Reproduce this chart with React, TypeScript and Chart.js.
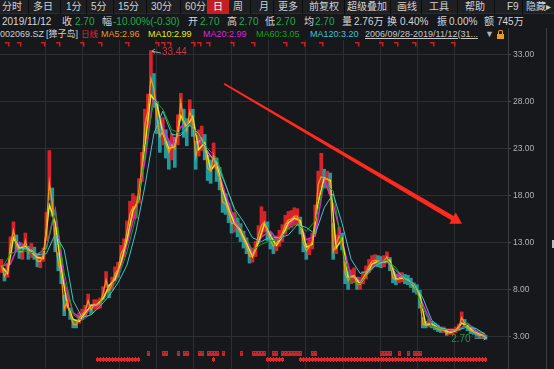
import React, { useEffect, useRef } from "react";
import { Chart, registerables } from "chart.js";
Chart.register(...registerables);

// ---- data (one slot ≈ a few weeks of daily bars) ----
const slotCount = 170;
const ma5 = [
  10.5, 9.4, 10.0, 12.8, 14.3, 12.8, 12.0, 12.0, 13.2, 11.9,
  12.2, 11.9, 11.0, 11.0, 11.6, 14.6, 19.4, 17.2, 13.0, 10.8,
  9.6, 5.9, 6.8, 5.3, 4.3, 4.2, 5.0, 5.3, 5.7, 6.8,
  5.8, 6.4, 6.4, 6.5, 7.6, 9.0, 7.8, 8.6, 9.7, 10.1,
  11.8, 12.4, 14.2, 16.0, 16.8, 16.8, 18.5, 21.0, 25.6, 27.0,
  30.5, 29.4, 26.3, 24.3, 24.9, 23.5, 22.6, 23.4, 23.0, 25.0,
  28.0, 25.8, 24.9, 27.0, 25.9, 22.1, 23.7, 24.1, 23.2, 20.9,
  20.6, 22.3, 20.8, 19.9, 17.3, 17.1, 16.2, 15.0, 15.1, 14.6,
  14.0, 13.3, 12.6, 11.5, 11.6, 12.3, 13.8, 14.8, 15.2, 14.2,
  13.2, 12.6, 12.9, 13.4, 14.0, 14.9, 15.4, 15.5, 15.8, 15.8,
  14.8, 13.0, 12.1, 12.5, 13.1, 15.5, 19.2, 20.0, 19.8, 19.8,
  19.4, 12.0, 12.8, 13.7, 13.2, 9.7, 8.9, 9.4, 9.5, 8.6,
  8.6, 9.2, 9.8, 10.5, 11.0, 11.1, 11.0, 10.9, 11.0, 11.5,
  10.7, 9.2, 9.0, 9.2, 9.3, 9.1, 9.0, 8.7, 8.2, 8.0,
  6.9, 4.3, 4.2, 4.4, 4.2, 4.0, 3.8, 3.7, 3.7, 3.3,
  3.5, 3.5, 3.7, 3.9, 5.0, 4.4, 3.9, 3.6, 3.5, 3.3,
  3.1, 3.1, 2.96,
];
const lows = [
  9.8, 8.9, 9.3, 11.8, 13.2, 12.0, 11.3, 11.2, 12.2, 11.2,
  11.4, 11.2, 10.4, 10.3, 11.0, 13.2, 17.5, 15.8, 12.0, 10.0,
  8.6, 5.2, 6.0, 4.8, 3.9, 3.9, 4.4, 4.8, 5.2, 6.1,
  5.4, 5.9, 5.9, 6.0, 6.9, 8.2, 7.1, 7.9, 8.9, 9.3,
  10.9, 11.5, 13.2, 14.8, 15.5, 15.6, 17.2, 19.5, 23.8, 25.2,
  28.5, 27.4, 24.6, 22.6, 23.4, 22.0, 20.8, 21.8, 21.0, 23.4,
  26.0, 24.2, 23.3, 25.4, 24.3, 20.8, 22.2, 22.8, 21.8, 19.6,
  19.3, 20.9, 19.5, 18.6, 16.2, 16.0, 15.1, 14.0, 14.1, 13.6,
  13.1, 12.4, 11.8, 10.8, 10.9, 11.5, 12.9, 13.8, 14.1, 13.2,
  12.3, 11.8, 12.1, 12.6, 13.1, 13.9, 14.4, 14.6, 14.9, 14.8,
  13.9, 12.0, 11.2, 11.7, 12.3, 14.2, 17.6, 18.8, 18.8, 18.8,
  18.2, 11.2, 11.8, 12.8, 12.2, 8.6, 8.0, 8.6, 8.8, 8.0,
  8.0, 8.6, 9.1, 9.8, 10.3, 10.5, 10.4, 10.3, 10.4, 10.8,
  10.0, 8.7, 8.5, 8.7, 8.8, 8.6, 8.5, 8.2, 7.7, 7.5,
  6.0, 3.9, 3.9, 4.0, 3.9, 3.7, 3.5, 3.4, 3.4, 3.1,
  3.2, 3.2, 3.4, 3.6, 4.4, 4.0, 3.6, 3.3, 3.2, 3.0,
  2.9, 2.9, 2.7,
];
const highs = [
  11.2, 10.2, 10.8, 13.6, 15.2, 13.8, 12.8, 12.7, 14.0, 12.6,
  12.9, 12.5, 11.7, 11.6, 12.4, 16.2, 22.8, 18.8, 14.6, 11.9,
  10.6, 7.4, 7.6, 6.0, 4.8, 4.7, 5.5, 5.9, 6.3, 7.5,
  6.4, 6.9, 6.9, 7.1, 8.3, 9.9, 8.5, 9.3, 10.4, 10.9,
  12.7, 13.4, 15.3, 17.4, 18.2, 17.9, 19.8, 22.6, 27.2, 28.8,
  33.44, 31.0, 28.0, 25.8, 26.3, 25.0, 23.8, 24.6, 24.2, 26.6,
  28.9, 27.2, 26.2, 28.2, 27.2, 23.8, 25.0, 25.4, 24.5, 22.3,
  21.8, 23.6, 22.0, 21.0, 18.6, 18.2, 17.2, 16.0, 16.2, 15.6,
  15.0, 14.2, 13.5, 12.3, 12.4, 13.1, 14.8, 16.8, 16.3, 15.2,
  14.1, 13.4, 13.7, 14.3, 14.9, 15.9, 16.3, 16.4, 16.7, 16.6,
  15.7, 14.0, 12.9, 13.3, 14.0, 17.0, 20.6, 22.5, 20.8, 20.6,
  20.4, 15.0, 13.8, 14.6, 14.0, 11.0, 9.7, 10.1, 10.3, 9.3,
  9.3, 9.9, 10.5, 11.2, 11.6, 11.7, 11.6, 11.5, 11.6, 12.0,
  11.4, 9.9, 9.5, 9.7, 9.8, 9.6, 9.5, 9.2, 8.7, 8.5,
  7.9, 5.0, 4.6, 4.8, 4.6, 4.4, 4.2, 4.0, 4.0, 3.7,
  3.8, 3.8, 4.0, 4.3, 5.6, 4.8, 4.2, 3.9, 3.8, 3.6,
  3.4, 3.4, 3.1,
];
// read every 2nd slot
const ma10Every2 = [
  10.5, 9.7, 13.5, 12.4, 12.6, 12.0, 11.4, 11.3, 17.0, 15.1,
  10.2, 6.3, 4.8, 4.6, 5.5, 6.3, 6.4, 7.0, 8.4, 9.1,
  10.9, 13.3, 16.4, 17.6, 23.3, 28.7, 27.8, 24.6, 23.0, 23.2,
  26.5, 25.3, 26.4, 22.9, 23.6, 20.7, 21.5, 18.6, 16.6, 15.0,
  14.3, 12.9, 11.5, 13.0, 15.0, 13.7, 12.7, 13.7, 15.1, 15.6,
  15.3, 12.5, 12.8, 17.3, 19.9, 19.6, 12.4, 13.4, 9.3, 9.4,
  8.6, 9.5, 10.7, 11.0, 10.9, 11.1, 9.1, 9.2, 9.0, 8.4,
  7.4, 4.2, 4.3, 3.9, 3.7, 3.4, 3.6, 4.4, 4.1, 3.5,
  3.2, 2.99,
];
// read every 3rd slot
const ma20Every3 = [
  10.5, 10.7, 13.0, 12.4, 11.7, 12.4, 16.5, 8.8, 5.5, 4.8,
  6.1, 6.4, 8.1, 9.5, 12.8, 16.5, 21.7, 29.0, 25.2, 23.2,
  25.3, 25.9, 23.9, 22.7, 21.2, 18.1, 15.4, 14.0, 11.9, 13.6,
  14.2, 13.0, 14.8, 15.7, 13.3, 13.7, 19.7, 17.1, 13.2, 9.3,
  8.9, 9.8, 11.0, 11.1, 9.6, 9.2, 8.6, 6.4, 4.3, 3.8,
  3.5, 3.7, 4.4, 3.5, 2.99,
];
const ma60Every3 = [
  10.2, 11.8, 12.2, 12.0, 11.8, 12.3, 16.5, 9.8, 5.3, 4.7,
  5.4, 6.5, 7.6, 9.2, 12.0, 15.7, 22.5, 28.2, 27.2, 25.0,
  24.6, 25.7, 24.2, 23.0, 22.0, 19.2, 16.4, 13.9, 12.2, 12.8,
  13.2, 13.3, 14.5, 15.0, 14.2, 15.3, 19.3, 18.5, 12.3, 8.8,
  8.6, 9.9, 10.9, 11.1, 10.3, 9.0, 8.5, 6.0, 4.1, 3.8,
  3.7, 3.7, 4.3, 3.8, 3.05,
];
const ma120Every3 = [
  null, null, 12.4, 12.3, 11.7, 11.8, 13.9, 12.2, 6.8, 5.0,
  5.3, 6.2, 7.3, 8.7, 10.6, 14.2, 19.0, 24.6, 27.0, 24.5,
  24.4, 25.5, 24.6, 22.6, 21.5, 19.1, 16.6, 15.2, 13.5, 13.1,
  13.6, 13.5, 13.8, 14.9, 14.6, 13.9, 16.7, 18.2, 15.0, 11.2,
  9.7, 10.0, 10.7, 11.0, 10.0, 9.2, 8.6, 7.1, 4.7, 3.9,
  3.7, 3.7, 4.0, 3.8, 3.2,
];
const yTicks = [3, 8, 13, 18, 23, 28, 33];
const xGridSlots = [14.6, 27.0, 39.5, 52.0, 64.4, 76.9, 89.4, 101.9, 114.3, 126.8, 139.3, 151.7];
const infoSlots = [2, 6, 14, 19, 27, 33, 42, 52, 54, 56, 64, 66, 69, 77, 84, 95, 101, 107, 119, 127, 132, 138, 144, 151];
const rSlots = [49, 54, 55, 59, 61, 62, 66, 67, 69, 70, 71, 72, 74, 80, 84, 85, 86, 87, 88, 91, 92, 94, 95, 96, 97, 98, 99, 100, 104, 105, 127, 128, 129, 130, 133, 136, 138, 139, 140];
const starRanges = [[32, 46], [71, 71], [89, 94], [100, 162]];
const arrowFrom = { slot: 74.5, price: 29.9 };
const arrowTo = { slot: 154.1, price: 15.0 };

const BG = "#16181c";
const GRID = "#2c2e33";
const AXIS = "#3c3e43";
const UP = "#d8232b";
const DOWN = "#23999b";
const C_MA5 = "#e8961e";
const C_MA10 = "#e8e81c";
const C_MA20 = "#dc24dc";
const C_MA60 = "#14a514";
const C_MA120 = "#3ec4d0";
const GREEN_TXT = "#1fae4a";
const FONT = '"Liberation Sans", "Noto Sans CJK SC", sans-serif';

const last = (a: (number | null)[]) => a[a.length - 1] as number;

const decor = {
  id: "decor",
  afterDatasetsDraw(chart: any) {
    const { ctx, chartArea, scales } = chart;
    const x = scales.x, y = scales.y;
    ctx.save();
    // info markers along the top
    ctx.fillStyle = "#d01c1c";
    infoSlots.forEach((s) => {
      const px = Math.round(x.getPixelForValue(s));
      ctx.fillRect(px - 2, chartArea.top + 2, 4, 1.5);
      ctx.fillRect(px + 1, chartArea.top + 2, 1.5, 4.5);
    });
    // signal marks at the bottom
    rSlots.forEach((s) => {
      const px = Math.round(x.getPixelForValue(s));
      ctx.fillStyle = "#c4262c";
      ctx.fillRect(px - 1, chartArea.bottom - 18, 3, 5);
      ctx.fillStyle = "#5a1a1c";
      ctx.fillRect(px, chartArea.bottom - 17, 1, 1);
    });
    ctx.fillStyle = "#e2272d";
    starRanges.forEach(([a, b]) => {
      for (let s = a; s <= b; s++) {
        const px = x.getPixelForValue(s);
        ctx.fillRect(Math.round(px - 1.5), chartArea.bottom - 11, 3, 3);
        ctx.fillRect(Math.round(px - 0.5), chartArea.bottom - 12, 1, 5);
      }
    });
    // red trend arrow
    const x0 = x.getPixelForValue(arrowFrom.slot), y0 = y.getPixelForValue(arrowFrom.price);
    const x1 = x.getPixelForValue(arrowTo.slot), y1 = y.getPixelForValue(arrowTo.price);
    const dx = x1 - x0, dy = y1 - y0, len = Math.hypot(dx, dy);
    const ux = dx / len, uy = dy / len, nx = -uy, ny = ux;
    const headL = 11, headW = 6.5, w0 = 0.9, w1 = 2.4;
    const bx = x1 - ux * headL, by = y1 - uy * headL;
    ctx.fillStyle = "#ff2a1c";
    ctx.beginPath();
    ctx.moveTo(x0 + nx * w0, y0 + ny * w0);
    ctx.lineTo(bx + nx * w1, by + ny * w1);
    ctx.lineTo(bx + nx * headW, by + ny * headW);
    ctx.lineTo(x1, y1);
    ctx.lineTo(bx - nx * headW, by - ny * headW);
    ctx.lineTo(bx - nx * w1, by - ny * w1);
    ctx.lineTo(x0 - nx * w0, y0 - ny * w0);
    ctx.closePath();
    ctx.fill();
    // peak label
    let mi = 0;
    highs.forEach((v, i) => { if (v > highs[mi]) mi = i; });
    const ppx = x.getPixelForValue(mi), ppy = y.getPixelForValue(highs[mi]);
    ctx.strokeStyle = "#a6a6a6";
    ctx.lineWidth = 1;
    ctx.beginPath();
    ctx.moveTo(ppx + 1, ppy + 0.5); ctx.lineTo(ppx + 10, ppy + 2.5);
    ctx.moveTo(ppx + 1, ppy + 0.5); ctx.lineTo(ppx + 4, ppy - 1.5);
    ctx.moveTo(ppx + 1, ppy + 0.5); ctx.lineTo(ppx + 4, ppy + 2.5);
    ctx.stroke();
    ctx.font = "10px " + FONT;
    ctx.textBaseline = "middle";
    ctx.textAlign = "left";
    ctx.fillStyle = "#c43a44";
    ctx.fillText(highs[mi].toFixed(2), ppx + 11, ppy + 1.5);
    // last low label
    const li = lows.length - 1;
    const lpx = x.getPixelForValue(li), lpy = y.getPixelForValue(lows[li]);
    ctx.beginPath();
    ctx.moveTo(lpx - 11, lpy - 1); ctx.lineTo(lpx + 1, lpy - 1);
    ctx.moveTo(lpx + 1, lpy - 1); ctx.lineTo(lpx - 2, lpy - 3);
    ctx.moveTo(lpx + 1, lpy - 1); ctx.lineTo(lpx - 2, lpy + 1);
    ctx.stroke();
    ctx.fillStyle = "#1c9a4a";
    ctx.textAlign = "right";
    ctx.fillText(lows[li].toFixed(2), lpx - 15, lpy);
    ctx.restore();
  },
};

const toolbar: { t: string; x: number; active?: boolean }[] = [
  { t: "分时", x: 2 }, { t: "多日", x: 33 }, { t: "1分", x: 66 }, { t: "5分", x: 91 },
  { t: "15分", x: 118 }, { t: "30分", x: 151 }, { t: "60分", x: 185 }, { t: "日", x: 213, active: true },
  { t: "周", x: 233 }, { t: "月", x: 259 }, { t: "更多", x: 278 }, { t: "前复权", x: 309 },
  { t: "超级叠加", x: 347 }, { t: "画线", x: 397 }, { t: "工具", x: 429 }, { t: "帮助", x: 465 },
  { t: "F9", x: 507 }, { t: "隐藏▸", x: 526 },
];
const toolbarSeps = [28, 60, 86, 113, 146, 180, 250, 273, 302, 344, 390, 421, 457, 494, 522];

export default function App() {
  const ref = useRef<HTMLCanvasElement>(null);
  useEffect(() => {
    document.body.style.margin = "0";
    document.body.style.background = BG;
    const candles = lows.map((l, i) => ({ x: i, y: [l, highs[i]] }));
    const candleColors = ma5.map((v, i) => (i === 0 || v >= ma5[i - 1] ? UP : DOWN));
    const pts = (vals: (number | null)[], step: number) => vals.map((v, k) => ({ x: k * step, y: v }));
    const lineDs = (label: string, data: any[], color: string, order: number, w: number) => ({
      type: "line" as const, label, data, borderColor: color, borderWidth: w,
      pointRadius: 0, tension: 0, spanGaps: true, order,
    });
    const chart = new Chart(ref.current!, {
      type: "bar",
      data: {
        datasets: [
          lineDs("MA120", pts(ma120Every3, 3), C_MA120, 1, 1) as any,
          lineDs("MA60", pts(ma60Every3, 3), C_MA60, 2, 1),
          lineDs("MA5", pts(ma5, 1), C_MA5, 3, 1.3),
          lineDs("MA10", pts(ma10Every2, 2), C_MA10, 4, 1.5),
          lineDs("MA20", pts(ma20Every3, 3), C_MA20, 5, 1.5),
          { type: "bar", label: "K", data: candles as any, backgroundColor: candleColors, borderWidth: 0, barThickness: 3, order: 6 },
        ],
      },
      options: {
        animation: false,
        responsive: false,
        devicePixelRatio: 1,
        events: [],
        layout: { padding: 0 },
        plugins: { legend: { display: false }, tooltip: { enabled: false } },
        scales: {
          x: {
            type: "linear", min: -0.5, max: slotCount - 0.5, offset: false,
            grid: { color: GRID, drawTicks: false, offset: false },
            border: { display: false },
            ticks: { display: false },
            afterBuildTicks: (s: any) => { s.ticks = xGridSlots.map((v) => ({ value: v })); },
            afterFit: (s: any) => { s.height = 0; s.paddingLeft = 0; s.paddingRight = 0; s.paddingTop = 0; s.paddingBottom = 0; },
          },
          y: {
            type: "linear", position: "right", min: -0.48, max: 34.57,
            grid: { color: GRID, tickLength: 3, tickColor: "#4a4c51" },
            border: { display: true, color: AXIS },
            ticks: {
              color: "#b2b2b2", padding: 2,
              font: { family: "Liberation Sans", size: 8.5 },
              callback: (v: any) => Number(v).toFixed(2),
            },
            afterBuildTicks: (s: any) => { s.ticks = yTicks.map((v) => ({ value: v })); },
            afterFit: (s: any) => { s.width = 46; s.paddingTop = 0; s.paddingBottom = 0; },
          },
        },
      },
      plugins: [decor],
    });
    return () => chart.destroy();
  }, []);

  const row2: { t: string; x: number; c: string }[] = [
    { t: "2019/11/12", x: 2, c: "#d6d6d6" },
    { t: "收", x: 62, c: "#d6d6d6" }, { t: "2.70", x: 75, c: GREEN_TXT },
    { t: "幅", x: 102, c: "#d6d6d6" }, { t: "-10.00%(-0.30)", x: 113, c: GREEN_TXT },
    { t: "开", x: 188, c: "#d6d6d6" }, { t: "2.70", x: 200, c: GREEN_TXT },
    { t: "高", x: 227, c: "#d6d6d6" }, { t: "2.70", x: 239, c: GREEN_TXT },
    { t: "低", x: 265, c: "#d6d6d6" }, { t: "2.70", x: 276, c: GREEN_TXT },
    { t: "均", x: 304, c: "#d6d6d6" }, { t: "2.70", x: 315, c: GREEN_TXT },
    { t: "量", x: 342, c: "#d6d6d6" }, { t: "2.76万", x: 354, c: "#d6d6d6" },
    { t: "换", x: 387, c: "#d6d6d6" }, { t: "0.40%", x: 400, c: "#d6d6d6" },
    { t: "振", x: 437, c: "#d6d6d6" }, { t: "0.00%", x: 449, c: "#d6d6d6" },
    { t: "额", x: 484, c: "#d6d6d6" }, { t: "745万", x: 497, c: "#d6d6d6" },
  ];
  const row3: { t: string; x: number; c: string; u?: boolean; fs?: number }[] = [
    { t: "002069.SZ", x: 0, c: "#cfcfcf" }, { t: "[獐子岛]", x: 46, c: "#cfcfcf" },
    { t: "日线", x: 81, c: "#e3262b", fs: 8.5 },
    { t: "MA5:" + last(ma5).toFixed(2), x: 101, c: C_MA5 },
    { t: "MA10:" + last(ma10Every2).toFixed(2), x: 148, c: C_MA10 },
    { t: "MA20:" + last(ma20Every3).toFixed(2), x: 203, c: C_MA20 },
    { t: "MA60:" + last(ma60Every3).toFixed(2), x: 256, c: C_MA60 },
    { t: "MA120:" + last(ma120Every3).toFixed(2), x: 310, c: C_MA120 },
    { t: "2006/09/28-2019/11/12(31...", x: 365, c: "#c6c6c6", u: true },
    { t: "▼", x: 485, c: "#b0b0b0" },
  ];

  const abs = (x: number, top: number, extra: any = {}) => ({ position: "absolute" as const, left: x, top, whiteSpace: "nowrap" as const, ...extra });

  return (
    <div style={{ position: "relative", width: 554, height: 369, background: BG, overflow: "hidden", fontFamily: FONT }}>
      <div style={{ position: "absolute", left: 0, top: 0, width: 554, height: 14, background: "#1d1f23", borderBottom: "1px solid #2a2c30", boxSizing: "border-box" }} />
      <div style={{ position: "absolute", left: 207, top: 0, width: 22, height: 14, background: "#c4201f" }} />
      {toolbarSeps.map((sx, i) => (
        <div key={"s" + i} style={{ position: "absolute", left: sx, top: 0, width: 1, height: 14, background: "#0c0d0f" }} />
      ))}
      {toolbar.map((b, i) => (
        <span key={"b" + i} style={abs(b.x, 0, { fontSize: 10, lineHeight: "14px", color: b.active ? "#ffffff" : "#d2d2d2" })}>{b.t}</span>
      ))}
      {row2.map((r, i) => (
        <span key={"r" + i} style={abs(r.x, 14, { fontSize: 10, lineHeight: "15px", color: r.c })}>{r.t}</span>
      ))}
      {row3.map((r, i) => (
        <span key={"m" + i} style={abs(r.x, 28, { fontSize: r.fs || 9, lineHeight: "13px", color: r.c, textDecoration: r.u ? "underline" : "none" })}>{r.t}</span>
      ))}
      {/* lock icon */}
      <div style={{ position: "absolute", left: 498, top: 30, width: 3, height: 3, border: "1.5px solid #e3a020", borderBottom: "none", borderRadius: "2px 2px 0 0" }} />
      <div style={{ position: "absolute", left: 497, top: 34, width: 7, height: 5, background: "#e3a020" }} />
      <div style={{ position: "absolute", left: 508, top: 28, width: 1, height: 12, background: AXIS }} />
      <canvas ref={ref} width={554} height={329} style={{ position: "absolute", left: 0, top: 40, width: 554, height: 329 }} />
      <div style={{ position: "absolute", left: 546, top: 28, width: 1, height: 341, background: AXIS }} />
      <div style={{ position: "absolute", left: 552, top: 240, width: 2, height: 8, background: "#bdbdbd" }} />
    </div>
  );
}
